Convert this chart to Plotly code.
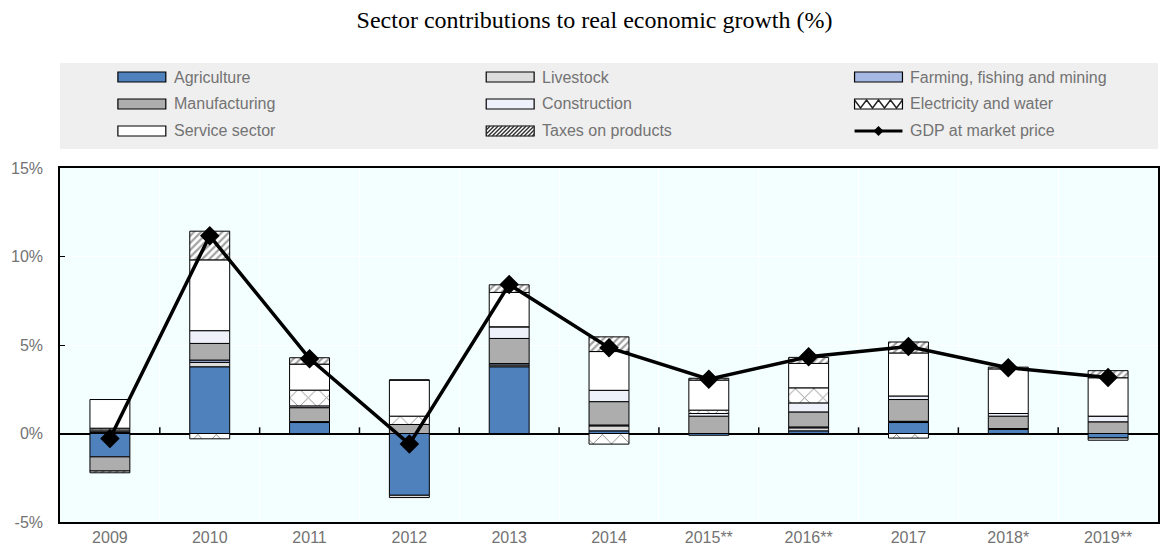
import plotly.graph_objects as go

# ---- data (% contribution to real GDP growth) ----
years = ["2009", "2010", "2011", "2012", "2013", "2014",
         "2015**", "2016**", "2017", "2018*", "2019**"]

agriculture = [-1.32, 3.77, 0.62, -3.49, 3.77, 0.15, -0.10, 0.15, 0.62, 0.23, -0.25]
livestock = [0.05, 0.25, 0.05, -0.13, 0.10, 0.28, 0.00, 0.17, 0.07, 0.05, -0.13]
farming = [0.05, 0.13, 0.00, 0.00, 0.08, 0.05, 0.00, 0.05, 0.00, 0.00, 0.00]
manufacturing = [-0.80, 0.94, 0.79, 0.51, 1.42, 1.32, 0.98, 0.85, 1.23, 0.70, 0.66]
construction = [0.10, 0.72, 0.10, 0.00, 0.66, 0.64, 0.15, 0.51, 0.20, 0.15, 0.32]
electricity = [0.10, -0.30, 0.89, 0.47, 0.00, -0.60, 0.19, 0.85, -0.26, -0.05, 0.00]
service = [1.62, 4.00, 1.47, 2.04, 1.94, 2.19, 1.70, 1.38, 2.43, 2.52, 2.17]
taxes = [-0.10, 1.62, 0.36, 0.00, 0.43, 0.83, 0.10, 0.34, 0.62, 0.10, 0.40]
gdp = [-0.28, 11.17, 4.23, -0.60, 8.42, 4.85, 3.07, 4.34, 4.92, 3.72, 3.17]

y_ticks = [-5, 0, 5, 10, 15]
y_tick_labels = ["-5%", "0%", "5%", "10%", "15%"]

# ---- styling ----
W, H = 1161, 549
ML, MR, MT, MB = 60, 1, 168, 27
PW, PH = W - ML - MR, H - MT - MB

TEXT_GREY = "#737373"
FONT = "Liberation Sans, Arial, sans-serif"

series = [
    ("Agriculture", agriculture, "#4f81bd", None),
    ("Livestock", livestock, "#dcdcdc", None),
    ("Farming, fishing and mining", farming, "#a6b8e4", None),
    ("Manufacturing", manufacturing, "#adadad", None),
    ("Construction", construction, "#eef0fa", None),
    ("Electricity and water", electricity, "#ffffff", "x"),
    ("Service sector", service, "#ffffff", None),
    ("Taxes on products", taxes, "#ffffff", "/"),
]

fig = go.Figure()

for name, vals, color, pat in series:
    marker = dict(color=color, line=dict(color="black", width=1))
    if pat == "x":
        marker["pattern"] = dict(shape="x", size=13, solidity=0.14,
                                 fgcolor="#1a1a1a", bgcolor="#ffffff")
    elif pat == "/":
        marker["pattern"] = dict(shape="/", size=5, solidity=0.45,
                                 fgcolor="#444444", bgcolor="#ffffff")
    fig.add_trace(go.Bar(x=years, y=vals, name=name, marker=marker,
                         showlegend=False))

fig.add_trace(go.Scatter(
    x=years, y=gdp, name="GDP at market price", mode="lines+markers",
    line=dict(color="black", width=3.5),
    marker=dict(symbol="diamond", size=15, color="black"),
    showlegend=False,
))


# ---- hand-built legend in a grey band above the plot ----
def px_x(px):
    return (px - ML) / PW


def px_y(py):
    return (H - MB - py) / PH


shapes = []
annotations = []

shapes.append(dict(type="rect", xref="paper", yref="paper",
                   x0=px_x(60), x1=px_x(1160), y0=px_y(149), y1=px_y(63),
                   fillcolor="#efefef", line=dict(width=0), layer="below"))

legend_entries = [name for name, _, _, _ in series] + ["GDP at market price"]
styles = {name: (color, pat) for name, _, color, pat in series}
col_x = [118, 487, 856]
row_y = [77, 104, 131]
SW, SH = 48, 10

for i, name in enumerate(legend_entries):
    cx = col_x[i % 3]
    cy = row_y[i // 3]
    if name == "GDP at market price":
        shapes.append(dict(type="line", xref="paper", yref="paper",
                           x0=px_x(cx), x1=px_x(cx + SW), y0=px_y(cy), y1=px_y(cy),
                           line=dict(color="black", width=3)))
        d = 5
        path = (f"M{px_x(cx + 24 - d)},{px_y(cy)} L{px_x(cx + 24)},{px_y(cy - d)} "
                f"L{px_x(cx + 24 + d)},{px_y(cy)} L{px_x(cx + 24)},{px_y(cy + d)} Z")
        shapes.append(dict(type="path", xref="paper", yref="paper", path=path,
                           fillcolor="black", line=dict(color="black", width=0)))
    else:
        color, pat = styles[name]
        x0, x1 = px_x(cx), px_x(cx + SW)
        y0, y1 = px_y(cy + SH / 2), px_y(cy - SH / 2)
        shapes.append(dict(type="rect", xref="paper", yref="paper",
                           x0=x0, x1=x1, y0=y0, y1=y1, fillcolor=color,
                           line=dict(color="black", width=1.2)))
        if pat == "/":
            segs = []
            for k in range(0, SW + SH, 4):
                a = max(cx, cx + k - SH)
                b = min(cx + SW, cx + k)
                ya = cy + SH / 2 - (a - (cx + k - SH))
                yb = cy + SH / 2 - (b - (cx + k - SH))
                if b > a:
                    segs.append(f"M{px_x(a)},{px_y(ya)} L{px_x(b)},{px_y(yb)}")
            shapes.append(dict(type="path", xref="paper", yref="paper",
                               path=" ".join(segs),
                               line=dict(color="#333333", width=1.4)))
        elif pat == "x":
            pts = []
            step = 12
            for k in range(0, SW + 1, step // 2):
                yy = cy - SH / 2 + 1 if (k // (step // 2)) % 2 == 0 else cy + SH / 2 - 1
                pts.append(f"{px_x(cx + k)},{px_y(yy)}")
            shapes.append(dict(type="path", xref="paper", yref="paper",
                               path="M" + " L".join(pts),
                               line=dict(color="#222222", width=1.4)))
    annotations.append(dict(text=name, xref="paper", yref="paper",
                            x=px_x(cx + SW + 6), y=px_y(cy), xanchor="left",
                            yanchor="middle", showarrow=False,
                            font=dict(family=FONT, size=16, color=TEXT_GREY)))

# small category ticks on the zero line
for i in range(len(years) - 1):
    shapes.append(dict(type="line", xref="x", yref="y", x0=i + 0.5, x1=i + 0.5,
                       y0=0, y1=0.35, line=dict(color="black", width=1.5)))

fig.update_layout(
    width=W, height=H,
    margin=dict(l=ML, r=MR, t=MT, b=MB),
    paper_bgcolor="white",
    plot_bgcolor="#f3feff",
    barmode="relative",
    bargap=0.6,
    title=dict(text="Sector contributions to real economic growth (%)",
               x=594.5 / W, xref="container", xanchor="center",
               y=1 - 20 / H, yref="container", yanchor="middle",
               font=dict(family="Liberation Serif, Times New Roman, serif",
                         size=24, color="black")),
    shapes=shapes,
    annotations=annotations,
    showlegend=False,
)

fig.update_xaxes(
    type="category",
    range=[-0.5, len(years) - 0.5],
    tickson="boundaries",
    showgrid=True, gridcolor="white", gridwidth=1,
    ticks="",
    showline=True, linecolor="black", linewidth=1.5, mirror=True,
    tickfont=dict(family=FONT, size=16, color=TEXT_GREY),
)

fig.update_yaxes(
    range=[-5, 15],
    tickvals=y_ticks, ticktext=y_tick_labels,
    showgrid=True, gridcolor="white", gridwidth=1,
    zeroline=True, zerolinecolor="black", zerolinewidth=2,
    ticks="inside", ticklen=5, tickcolor="black",
    ticklabelstandoff=12,
    showline=True, linecolor="black", linewidth=1.5, mirror=True,
    tickfont=dict(family=FONT, size=16, color=TEXT_GREY),
)

fig.write_html("out.html")
